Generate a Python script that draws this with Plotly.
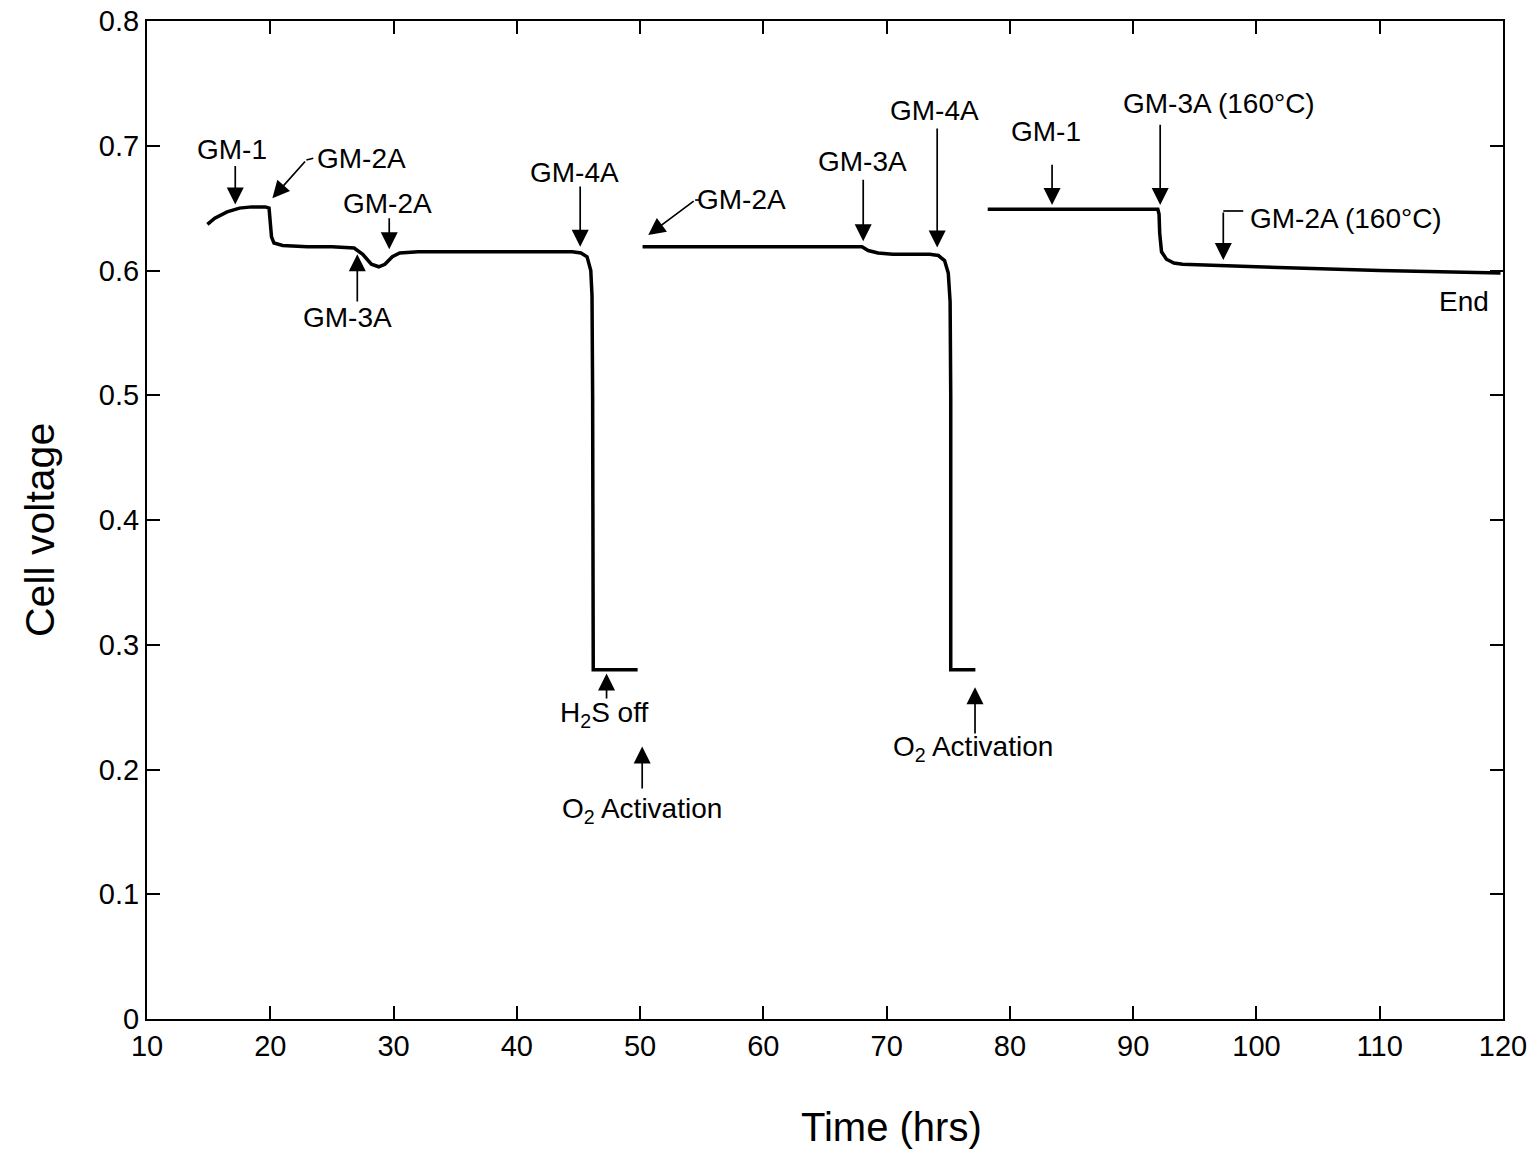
import plotly.graph_objects as go

# ---- data ----
seg1_x = [14.9, 15.5, 16.5, 17.5, 18.5, 19.6, 19.9, 20.0, 20.1, 20.3, 21.0, 23.0, 25.0, 26.8,
          27.5, 28.2, 28.8, 29.3, 29.9, 30.5, 32.0, 35.0, 40.0, 44.5, 45.2, 45.7, 46.0, 46.1,
          46.15, 46.2, 49.8]
seg1_y = [0.637, 0.642, 0.647, 0.650, 0.651, 0.651, 0.650, 0.640, 0.627, 0.622, 0.620, 0.619,
          0.619, 0.618, 0.613, 0.605, 0.603, 0.605, 0.611, 0.614, 0.615, 0.615, 0.615, 0.615,
          0.614, 0.611, 0.600, 0.580, 0.500, 0.280, 0.280]

seg2_x = [50.2, 55.0, 60.0, 65.0, 68.0, 68.5, 69.3, 70.5, 73.5, 74.2, 74.7, 75.0, 75.15,
          75.2, 75.2, 77.2]
seg2_y = [0.619, 0.619, 0.619, 0.619, 0.619, 0.616, 0.614, 0.613, 0.613, 0.612, 0.608, 0.598,
          0.575, 0.500, 0.280, 0.280]

seg3_x = [78.2, 85.0, 90.0, 92.0, 92.1, 92.15, 92.3, 92.7, 93.3, 94.0, 100.0, 110.0, 119.8]
seg3_y = [0.649, 0.649, 0.649, 0.649, 0.645, 0.630, 0.615, 0.609, 0.606, 0.605, 0.603, 0.600,
          0.598]

x_ticks = [10, 20, 30, 40, 50, 60, 70, 80, 90, 100, 110, 120]
y_ticks = [0, 0.1, 0.2, 0.3, 0.4, 0.5, 0.6, 0.7, 0.8]
y_tick_labels = ["0", "0.1", "0.2", "0.3", "0.4", "0.5", "0.6", "0.7", "0.8"]

# labels: (text, x, y, xanchor)
labels = [
    ("GM-1", 16.93, 0.697, "center"),
    ("GM-2A", 23.65, 0.690, "left"),
    ("GM-2A", 29.49, 0.654, "center"),
    ("GM-3A", 26.3, 0.5627, "center"),
    ("GM-4A", 44.70, 0.6786, "center"),
    ("H<sub>2</sub>S off", 47.05, 0.2437, "center"),
    ("O<sub>2</sub> Activation", 50.17, 0.1675, "center"),
    ("GM-2A", 54.45, 0.6573, "left"),
    ("GM-3A", 68.05, 0.687, "center"),
    ("GM-4A", 73.9, 0.7279, "center"),
    ("O<sub>2</sub> Activation", 76.97, 0.2172, "center"),
    ("GM-1", 82.9, 0.7118, "center"),
    ("GM-3A (160°C)", 96.97, 0.7335, "center"),
    ("GM-2A (160°C)", 99.3, 0.6413, "left"),
    ("End", 116.8, 0.5755, "center"),
]

# arrows: (tail_x, tail_y, head_x, head_y)
arrows = [
    (17.16, 0.685, 17.16, 0.653),
    (22.93, 0.6886, 20.17, 0.658),
    (29.65, 0.643, 29.65, 0.617),
    (27.06, 0.574, 27.06, 0.613),
    (45.14, 0.6685, 45.14, 0.619),
    (47.28, 0.2557, 47.28, 0.2770),
    (50.17, 0.1836, 50.17, 0.2185),
    (54.47, 0.6565, 50.66, 0.6285),
    (68.1, 0.674, 68.1, 0.6235),
    (74.1, 0.715, 74.1, 0.6185),
    (77.17, 0.2277, 77.17, 0.266),
    (83.42, 0.686, 83.42, 0.6525),
    (92.19, 0.718, 92.19, 0.6525),
    (97.31, 0.6477, 97.31, 0.6084),
]

# connector segments (no heads): (x0, y0, x1, y1)
connectors = [
    (23.49, 0.690, 22.93, 0.6886),
    (54.9, 0.6565, 54.47, 0.6565),
    (98.93, 0.6477, 97.31, 0.6477),
]

FONT = "Liberation Sans, Arial, Helvetica, sans-serif"

W, H = 1538, 1158
L, T, R, B = 147, 21, 35, 139

fig = go.Figure()
xs = seg1_x + [None] + seg2_x + [None] + seg3_x
ys = seg1_y + [None] + seg2_y + [None] + seg3_y
fig.add_trace(go.Scatter(x=xs, y=ys, mode="lines", line=dict(color="black", width=3.5),
                         connectgaps=False, showlegend=False, hoverinfo="skip"))

for (t, x, y, xa) in labels:
    fig.add_annotation(x=x, y=y, xref="x", yref="y", text=t, showarrow=False,
                       xanchor=xa, yanchor="middle",
                       font=dict(family=FONT, size=28, color="black"))

for (tx, ty, hx, hy) in arrows:
    fig.add_annotation(x=hx, y=hy, ax=tx, ay=ty, xref="x", yref="y", axref="x", ayref="y",
                       text="", showarrow=True, arrowhead=2, arrowsize=2.0, arrowwidth=1.7,
                       arrowcolor="black", standoff=0, startstandoff=0)

for (x0, y0, x1, y1) in connectors:
    fig.add_shape(type="line", x0=x0, y0=y0, x1=x1, y1=y1, xref="x", yref="y",
                  line=dict(color="black", width=1.7))

plot_w = W - L - R
plot_h = H - T - B
fig.add_annotation(text="Time (hrs)", x=(891 - L) / plot_w, y=-(1127 - (H - B)) / plot_h,
                   xref="paper", yref="paper", showarrow=False, xanchor="center", yanchor="middle",
                   font=dict(family=FONT, size=40, color="black"))
fig.add_annotation(text="Cell voltage", x=-(L - 40) / plot_w, y=((H - B) - 530) / plot_h,
                   xref="paper", yref="paper", showarrow=False, textangle=-90,
                   xanchor="center", yanchor="middle",
                   font=dict(family=FONT, size=41, color="black"))

fig.update_layout(
    width=W, height=H,
    margin=dict(l=L, r=R, t=T, b=B, autoexpand=False),
    paper_bgcolor="white", plot_bgcolor="white",
    font=dict(family=FONT, size=28, color="black"),
    showlegend=False,
)

fig.update_xaxes(range=[10, 120], tickvals=x_ticks, ticks="inside", ticklen=13, tickwidth=1.5,
                 tickcolor="black", showline=True, linecolor="black", linewidth=2, mirror="ticks",
                 showgrid=False, zeroline=False, ticklabeloverflow="allow", automargin=False,
                 tickfont=dict(family=FONT, size=29, color="black"))
fig.update_yaxes(range=[0, 0.8], tickvals=y_ticks, ticktext=y_tick_labels, ticks="inside",
                 ticklen=13, tickwidth=1.5, tickcolor="black", showline=True, linecolor="black",
                 linewidth=2, mirror="ticks", showgrid=False, zeroline=False,
                 ticklabeloverflow="allow", automargin=False,
                 tickfont=dict(family=FONT, size=29, color="black"))

fig.write_html("out.html", config={"displayModeBar": False},
               post_script="document.body.style.margin='0';document.body.style.overflow='hidden';")
